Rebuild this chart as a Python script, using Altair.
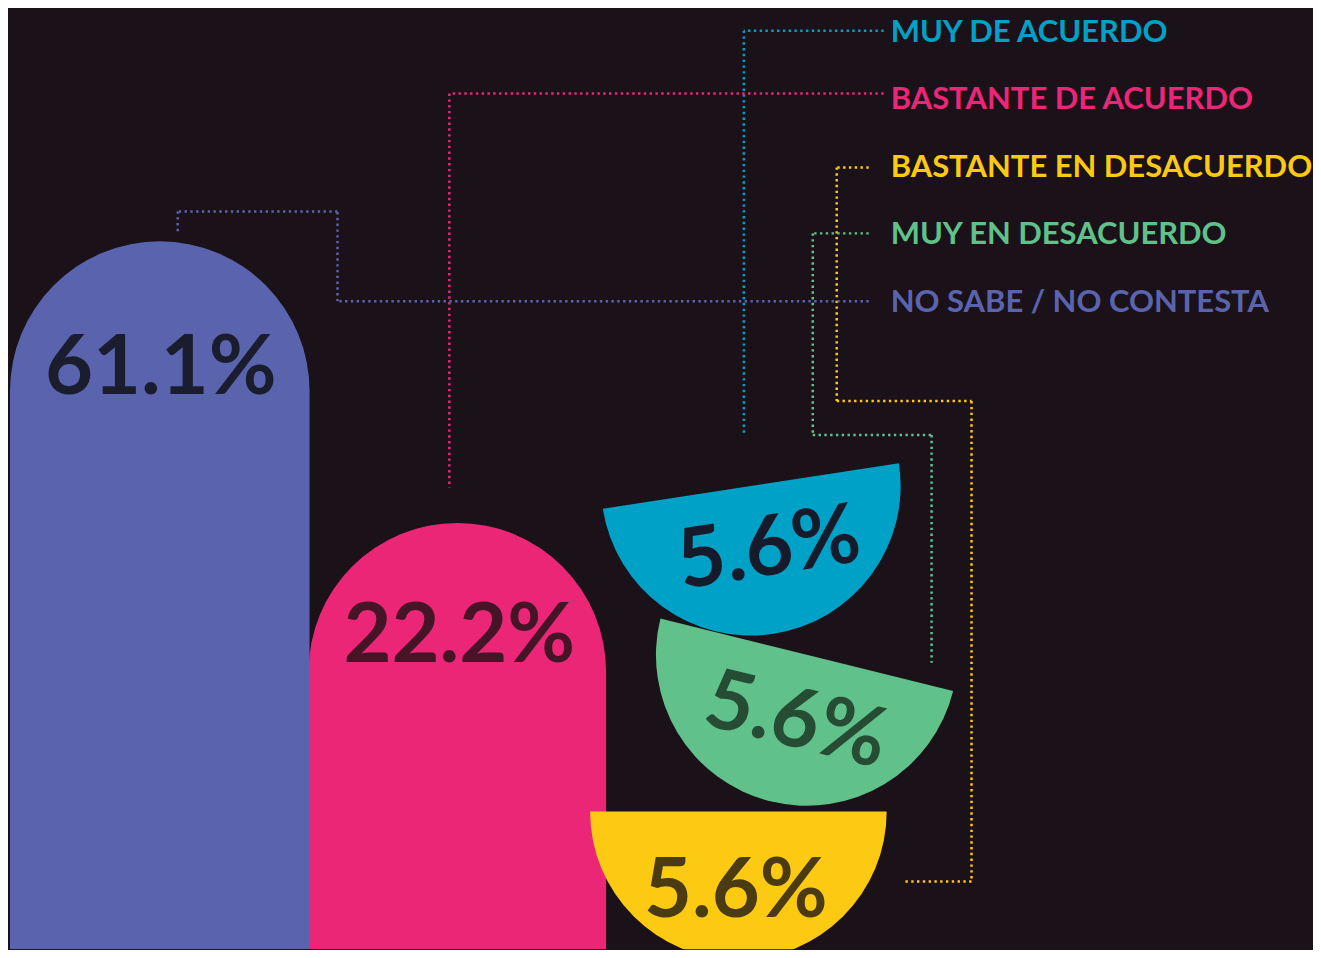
import math
import altair as alt
import pandas as pd

# ---------------- data ----------------
categories = ["MUY DE ACUERDO", "BASTANTE DE ACUERDO", "BASTANTE EN DESACUERDO",
              "MUY EN DESACUERDO", "NO SABE / NO CONTESTA"]
values = [5.6, 22.2, 5.6, 5.6, 61.1]
colors = ["#00a1c7", "#ec2677", "#fcc913", "#60c18a", "#5a64ae"]
label_colors = ["#151b2b", "#461427", "#4a3b13", "#264c34", "#1a1d2e"]

# ---------------- layout (pixel-like coordinates of the page) ----------------
shape_kind = ["half", "bar", "half", "half", "bar"]
center_x = [752, 458, 739.5, 808, 160]
center_y = [486, 672, 812, 655, 391]
radius = [150, 149, 148.5, 151, 150]
tilt = [-8.7, 0, 0, 13.9, 0]           # degrees, clockwise
label_x = [770, 460, 737, 797, 161]
label_y = [545, 632, 888, 717, 364]
label_angle = [351, 0, 0, 14, 0]
legend_x = 892
legend_y = [30, 97, 166, 233, 301]
paths = [
    [(885, 30), (745, 30), (745, 435)],
    [(885, 93), (450, 93), (450, 488)],
    [(870, 167), (838, 167), (838, 401), (973, 401), (973, 882), (905, 882)],
    [(870, 233), (814, 233), (814, 435), (933, 435), (933, 663)],
    [(870, 301), (338, 301), (338, 211), (178, 211), (178, 232)],
]

BG = "#1b1119"
W, H = 1305, 942
xs = alt.Scale(domain=[8, 8 + W], nice=False, zero=False)
ys = alt.Scale(domain=[8, 8 + H], nice=False, zero=False, reverse=True)
FONT = "Lato"

layers = []

# connectors
seg_rows = []
for i, p in enumerate(paths):
    for (a, b) in zip(p[:-1], p[1:]):
        seg_rows.append({"cat": categories[i], "x": a[0], "y": a[1], "x2": b[0], "y2": b[1]})
seg_df = pd.DataFrame(seg_rows)
layers.append(
    alt.Chart(seg_df).mark_rule(strokeWidth=2.5, strokeDash=[2.4, 3.4], strokeCap="butt").encode(
        x=alt.X("x:Q", scale=xs, axis=None),
        y=alt.Y("y:Q", scale=ys, axis=None),
        x2="x2:Q", y2="y2:Q",
        color=alt.Color("cat:N", scale=alt.Scale(domain=categories, range=colors), legend=None),
    )
)

# shapes
for i in range(len(categories)):
    row = pd.DataFrame([{"cat": categories[i], "value": values[i], "cx": center_x[i], "cy": center_y[i],
                         "top": center_y[i] - 1,
                         "left": center_x[i] - radius[i], "right": center_x[i] + radius[i],
                         "bottom": 8 + H}])
    if shape_kind[i] == "bar":
        t0, t1 = 1.5 * math.pi, 2.5 * math.pi
        layers.append(
            alt.Chart(row).mark_rect(color=colors[i], clip=True).encode(
                x=alt.X("left:Q", scale=xs, axis=None), x2="right:Q",
                y=alt.Y("top:Q", scale=ys, axis=None), y2="bottom:Q",
            )
        )
    else:
        a = math.radians(tilt[i])
        t0, t1 = 0.5 * math.pi + a, 1.5 * math.pi + a
    layers.append(
        alt.Chart(row).mark_arc(color=colors[i], radius=radius[i], theta=t0, theta2=t1, clip=True).encode(
            x=alt.X("cx:Q", scale=xs, axis=None),
            y=alt.Y("cy:Q", scale=ys, axis=None),
        )
    )

# value labels
lab_df = pd.DataFrame({
    "cat": categories,
    "txt": [f"{v:.1f}%" for v in values],
    "x": label_x,
    "y": [v + 5 for v in label_y],
})
for i in range(len(categories)):
    layers.append(
        alt.Chart(lab_df.iloc[[i]]).mark_text(
            font=FONT, fontWeight="bold", fontSize=83, align="center", baseline="middle",
            angle=label_angle[i], color=label_colors[i],
        ).encode(
            x=alt.X("x:Q", scale=xs, axis=None),
            y=alt.Y("y:Q", scale=ys, axis=None),
            text="txt:N",
        )
    )

# legend labels
leg_df = pd.DataFrame({"cat": categories, "x": [legend_x] * 5, "y": [v + 2 for v in legend_y]})
layers.append(
    alt.Chart(leg_df).mark_text(
        font=FONT, fontWeight="bold", fontSize=31, align="left", baseline="middle",
    ).encode(
        x=alt.X("x:Q", scale=xs, axis=None),
        y=alt.Y("y:Q", scale=ys, axis=None),
        text="cat:N",
        color=alt.Color("cat:N", scale=alt.Scale(domain=categories, range=colors), legend=None),
    )
)

chart = alt.layer(*layers).properties(
    width=W, height=H, background=BG, padding=0,
).configure_view(strokeWidth=0)

chart.save("out.html", embed_options={"renderer": "svg", "actions": False})
